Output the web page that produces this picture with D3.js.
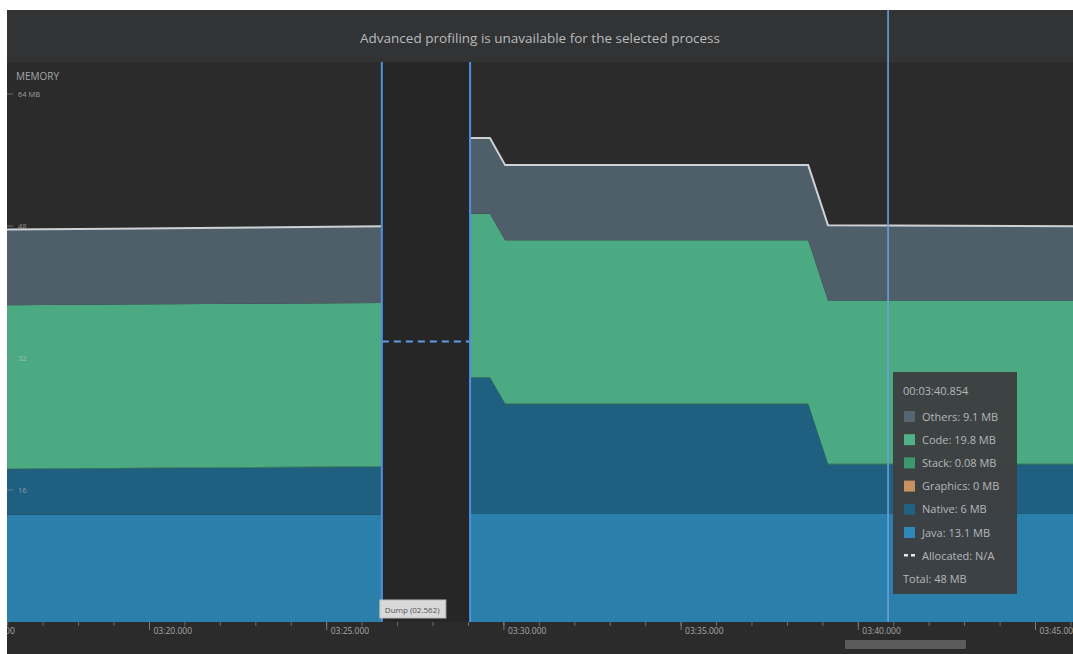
<!DOCTYPE html>
<html>
<head>
<meta charset="utf-8">
<script src="https://cdn.jsdelivr.net/npm/d3@7"></script>
<style>
  html, body { margin: 0; padding: 0; background: #ffffff; }
  svg { display: block; }
  text { font-family: "Open Sans", "Noto Sans", sans-serif; }
</style>
</head>
<body>
<svg id="chart" width="1073" height="654"></svg>
<script>
// Memory timeline (seconds since start); two recorded segments around a heap dump
const seriesKeys = ["java", "native", "graphics", "stack", "code", "others"];
const seriesNames = ["Java", "Native", "Graphics", "Stack", "Code", "Others"];

// segment before the heap dump
const timesA    = [195.9, 199.0, 203.0, 206.57];
const javaA     = [13.0, 13.0, 13.0, 13.0];
const nativeA   = [5.5, 5.6, 5.7, 5.8];
const graphicsA = [0, 0, 0, 0];
const stackA    = [0.08, 0.08, 0.08, 0.08];
const codeA     = [19.8, 19.8, 19.8, 19.8];
const othersA   = [9.2, 9.2, 9.25, 9.3];

// segment after the heap dump
const timesB    = [209.06, 209.62, 210.05, 218.6, 219.16, 226.3];
const javaB     = [13.1, 13.1, 13.1, 13.1, 13.1, 13.1];
const nativeB   = [16.5, 16.5, 13.3, 13.3, 6.0, 6.0];
const graphicsB = [0, 0, 0, 0, 0, 0];
const stackB    = [0.08, 0.08, 0.08, 0.08, 0.08, 0.08];
const codeB     = [19.8, 19.8, 19.8, 19.8, 19.8, 19.8];
const othersB   = [9.2, 9.2, 9.1, 9.1, 9.1, 9.0];

// heap dump interval and the allocated marker drawn inside it
const dumpStart = 206.57;
const dumpEnd = 209.06;
const dumpLabel = "Dump (02.562)";
const allocatedLevel = 34;

// selection cursor and its readout
const cursorTime = 220.854;
const tooltipTitle = "00:03:40.854";
const tooltipRows = [
  { name: "Others", value: "9.1 MB" },
  { name: "Code", value: "19.8 MB" },
  { name: "Stack", value: "0.08 MB" },
  { name: "Graphics", value: "0 MB" },
  { name: "Native", value: "6 MB" },
  { name: "Java", value: "13.1 MB" }
];
const tooltipTotal = "Total: 48 MB";

const yTickValues = [16, 32, 48, 64];
const yTickLabels = ["16", "32", "48", "64 MB"];
const xMajorTicks = [195, 200, 205, 210, 215, 220, 225];

const colors = {
  java: "#2b80ab",
  native: "#1f5f7f",
  graphics: "#c48b5b",
  stack: "#3d9b71",
  code: "#4caa83",
  others: "#4e5f6a"
};
const swatch = {
  Others: "#536671", Code: "#4fb187", Stack: "#3a9a6e",
  Graphics: "#c8915f", Native: "#1f6282", Java: "#2f88b9"
};

const svg = d3.select("#chart");
const W = 1073, H = 654;
const panelL = 7, panelT = 10;
const plotTop = 62, plotBottom = 622;

const x = d3.scaleLinear().domain([200, 225]).range([149, 1035]);
const y = d3.scaleLinear().domain([0, 64]).range([622, 94]);

// panel backgrounds
svg.append("rect").attr("x", panelL).attr("y", panelT).attr("width", W - panelL).attr("height", H - panelT).attr("fill", "#2b2b2b");
svg.append("rect").attr("x", panelL).attr("y", panelT).attr("width", W - panelL).attr("height", plotTop - panelT).attr("fill", "#323334");

const defs = svg.append("defs");
defs.append("clipPath").attr("id", "plotClip")
  .append("rect").attr("x", panelL).attr("y", plotTop).attr("width", W - panelL).attr("height", plotBottom - plotTop);
defs.append("clipPath").attr("id", "axisClip")
  .append("rect").attr("x", panelL).attr("y", plotBottom).attr("width", W - panelL).attr("height", H - plotBottom);

const plot = svg.append("g").attr("clip-path", "url(#plotClip)");

// dump interval background
plot.append("rect")
  .attr("x", x(dumpStart)).attr("y", plotTop)
  .attr("width", x(dumpEnd) - x(dumpStart)).attr("height", plotBottom - plotTop)
  .attr("fill", "#262626");

function buildRows(times, cols) {
  return times.map((t, i) => {
    const r = { t };
    seriesKeys.forEach((k, j) => { r[k] = cols[j][i]; });
    return r;
  });
}
const rowsA = buildRows(timesA, [javaA, nativeA, graphicsA, stackA, codeA, othersA]);
const rowsB = buildRows(timesB, [javaB, nativeB, graphicsB, stackB, codeB, othersB]);

const stack = d3.stack().keys(seriesKeys);
const area = d3.area().x(d => x(d.data.t)).y0(d => y(d[0])).y1(d => y(d[1]));
const totalLine = d3.line().x(d => x(d.data.t)).y(d => y(d[1]));

[rowsA, rowsB].forEach(rows => {
  const layers = stack(rows);
  plot.append("g").selectAll("path").data(layers).join("path")
    .attr("d", area)
    .attr("fill", d => colors[d.key]);
  plot.append("path")
    .attr("d", totalLine(layers[layers.length - 1]))
    .attr("fill", "none")
    .attr("stroke", "#cfd2d4")
    .attr("stroke-width", 2);
});

// allocated marker (dashed) inside the dump interval
plot.append("line")
  .attr("x1", x(dumpStart)).attr("x2", x(dumpEnd))
  .attr("y1", y(allocatedLevel)).attr("y2", y(allocatedLevel))
  .attr("stroke", "#5d9de6").attr("stroke-width", 2)
  .attr("stroke-dasharray", "7,5");

// dump boundaries
[dumpStart, dumpEnd].forEach(t => {
  svg.append("line")
    .attr("x1", x(t)).attr("x2", x(t))
    .attr("y1", plotTop).attr("y2", plotBottom)
    .attr("stroke", "#4f8fe0").attr("stroke-width", 2);
});

// cursor line crosses the banner too
svg.append("line")
  .attr("x1", x(cursorTime)).attr("x2", x(cursorTime))
  .attr("y1", panelT).attr("y2", plotBottom)
  .attr("stroke", "#6a9fe0").attr("stroke-width", 1.6);

// banner message
svg.append("text")
  .attr("x", 540).attr("y", 43)
  .attr("text-anchor", "middle")
  .attr("font-size", 13.5)
  .attr("fill", "#b9bbbd")
  .text("Advanced profiling is unavailable for the selected process");

// y axis labels
svg.append("text").attr("x", 16).attr("y", 80)
  .attr("font-size", 10).attr("fill", "#a4a6a8").text("MEMORY");
const yg = svg.append("g");
yTickValues.forEach((v, i) => {
  yg.append("line").attr("x1", panelL).attr("x2", panelL + 6)
    .attr("y1", y(v)).attr("y2", y(v))
    .attr("stroke", "#8a8a8a").attr("stroke-opacity", 0.7);
  yg.append("text").attr("x", 18).attr("y", y(v) + 3)
    .attr("font-size", 7.5)
    .attr("fill", v === 64 ? "#b0b0b0" : "#d0d0d0")
    .attr("fill-opacity", v === 64 ? 0.9 : 0.6)
    .text(yTickLabels[i]);
});

// x axis
const axisG = svg.append("g").attr("clip-path", "url(#axisClip)");
const minorAxis = d3.axisBottom(x)
  .tickValues(d3.range(193, 228, 1))
  .tickSize(4).tickFormat("");
axisG.append("g").attr("transform", `translate(0,${plotBottom})`).call(minorAxis)
  .call(g => g.select(".domain").remove())
  .call(g => g.selectAll("line").attr("stroke", "#6c6c6c"));

const fmt = t => {
  const m = Math.floor(t / 60), s = t - m * 60;
  return d3.format("02")(m) + ":" + d3.format("02")(Math.floor(s)) + ".000";
};
const majorAxis = d3.axisBottom(x).tickValues(xMajorTicks).tickSize(8).tickFormat(fmt);
axisG.append("g").attr("transform", `translate(0,${plotBottom})`).call(majorAxis)
  .call(g => g.select(".domain").remove())
  .call(g => g.selectAll("line").attr("stroke", "#7a7a7a"))
  .call(g => g.selectAll("text")
    .attr("text-anchor", "start").attr("x", 4).attr("y", 11.5).attr("dy", 0)
    .attr("font-size", 8.5).attr("fill", "#a8a8a8")
    .attr("font-family", "'Open Sans', 'Noto Sans', sans-serif"));

// scrollbar
svg.append("rect").attr("x", 845).attr("y", 640).attr("width", 121).attr("height", 9)
  .attr("rx", 1).attr("fill", "#5b5b5b");

// dump label
const dl = svg.append("g").attr("transform", `translate(${x(dumpStart) - 2},600)`);
dl.append("rect").attr("width", 66).attr("height", 18).attr("fill", "#d9d9d9").attr("stroke", "#bdbdbd");
dl.append("text").attr("x", 5).attr("y", 12.5).attr("font-size", 8).attr("fill", "#555").text(dumpLabel);

// tooltip readout
const tt = svg.append("g").attr("transform", "translate(893,372)");
tt.append("rect").attr("width", 124).attr("height", 222).attr("fill", "#3d3f41").attr("fill-opacity", 0.97);
tt.append("text").attr("x", 10).attr("y", 23).attr("font-size", 11).attr("fill", "#b5b7b9").text(tooltipTitle);
tooltipRows.forEach((r, i) => {
  const yy = 44 + i * 23.2;
  tt.append("rect").attr("x", 11).attr("y", yy - 5).attr("width", 11).attr("height", 11).attr("fill", swatch[r.name]);
  tt.append("text").attr("x", 29).attr("y", yy + 4.5).attr("font-size", 11).attr("fill", "#b5b7b9")
    .text(`${r.name}: ${r.value}`);
});
const ay = 44 + 6 * 23.2;
tt.append("line").attr("x1", 11).attr("x2", 22).attr("y1", ay).attr("y2", ay)
  .attr("stroke", "#e8e8e8").attr("stroke-width", 2.5).attr("stroke-dasharray", "4,3");
tt.append("text").attr("x", 29).attr("y", ay + 4.5).attr("font-size", 11).attr("fill", "#b5b7b9").text("Allocated: N/A");
tt.append("text").attr("x", 10).attr("y", 44 + 7 * 23.2 + 4.5).attr("font-size", 11).attr("fill", "#b5b7b9").text(tooltipTotal);
</script>
</body>
</html>
